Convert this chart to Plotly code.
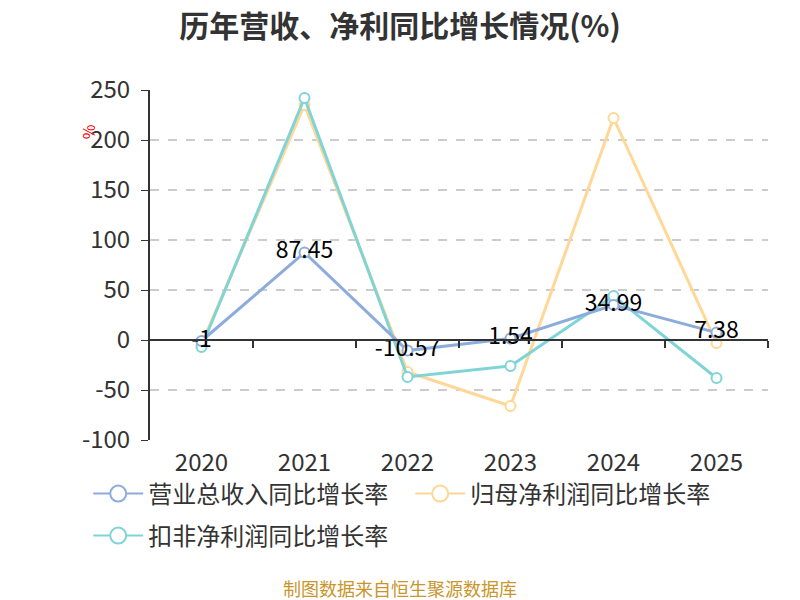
import plotly.graph_objects as go

years = ["2020", "2021", "2022", "2023", "2024", "2025"]
revenue_growth = [-1, 87.45, -10.57, 1.54, 34.99, 7.38]
parent_profit_growth = [-4, 235, -32, -66, 222, -3]
deducted_profit_growth = [-7, 242, -37, -26, 44, -38]

series_names = ["营业总收入同比增长率", "归母净利润同比增长率", "扣非净利润同比增长率"]
colors = ["#8DACDC", "#FFD797", "#80D4D6"]
y_ticks = [-100, -50, 0, 50, 100, 150, 200, 250]
y_tick_text = [str(v) for v in y_ticks]

FONT = "Noto Sans CJK SC, Microsoft YaHei, sans-serif"

series = [revenue_growth, parent_profit_growth, deducted_profit_growth]
legend_ids = ["legend", "legend", "legend2"]
data_traces = []
legend_traces = []
for i, (name, vals, col) in enumerate(zip(series_names, series, colors)):
    show_text = i == 0
    data_traces.append(go.Scatter(
        x=years, y=vals, name=name, showlegend=False,
        mode="lines+markers+text" if show_text else "lines+markers",
        text=[f"{v:g}" for v in vals] if show_text else None,
        textposition="middle center",
        textfont=dict(size=23, color="#000", family=FONT),
        line=dict(color=col, width=3),
        marker=dict(symbol="circle", size=10, color="white", line=dict(color=col, width=2)),
        cliponaxis=False,
    ))
    # legend-only entry with a larger symbol, like the reference legend
    legend_traces.append(go.Scatter(
        x=[None], y=[None], name=name, mode="lines+markers", legend=legend_ids[i],
        legendrank=i + 1, hoverinfo="skip",
        line=dict(color=col, width=2),
        marker=dict(symbol="circle", size=20, color="white", line=dict(color=col, width=2)),
    ))

fig = go.Figure()
# draw the labelled series last so its labels sit on top
for t in [data_traces[1], data_traces[2], data_traces[0]] + legend_traces:
    fig.add_trace(t)

# helper invisible trace for the zero-line tick axis
fig.add_trace(go.Scatter(x=[None], y=[None], xaxis="x2", showlegend=False, hoverinfo="skip"))

ymin, ymax = -100, 250
plot_h = 350
fig.update_layout(
    width=800, height=600,
    paper_bgcolor="white", plot_bgcolor="white",
    margin=dict(l=142, r=40, t=82, b=168),
    font=dict(family=FONT, color="#333"),
    title=dict(text="<b>历年营收、净利同比增长情况(%)</b>", x=0.49, xanchor="center",
               y=1 - 18 / 600, yanchor="middle",
               font=dict(size=30, color="#333", family=FONT)),
    xaxis=dict(type="category", categoryarray=years, range=[-0.5, 5.5],
               showline=False, showgrid=False, zeroline=False, ticks="",
               tickfont=dict(size=24, color="#333"), ticklabelstandoff=6),
    xaxis2=dict(overlaying="x", anchor="free", position=(0 - ymin) / (ymax - ymin),
                range=[-0.5, 5.5], tickvals=[0.5, 1.5, 2.5, 3.5, 4.5, 5.5],
                ticks="outside", ticklen=7, tickcolor="#333", tickwidth=2,
                showline=True, linecolor="#333", linewidth=2,
                showticklabels=False, showgrid=False, zeroline=False),
    yaxis=dict(range=[ymin, ymax], tickvals=y_ticks, ticktext=y_tick_text,
               showgrid=True, gridcolor="#ccc",
               griddash="dash", gridwidth=1.5, zeroline=False,
               showline=True, linecolor="#333", linewidth=2,
               ticks="outside", ticklen=7, tickcolor="#333", ticklabelstandoff=6,
               tickfont=dict(size=24, color="#333")),
    legend=dict(orientation="h", x=-0.1, xanchor="left", y=-(486 - 432) / plot_h,
                yanchor="middle", bgcolor="rgba(0,0,0,0)",
                font=dict(size=24, color="#333"), traceorder="normal",
                itemwidth=50, entrywidth=257),
    legend2=dict(orientation="h", x=-0.1, xanchor="left", y=-(528 - 432) / plot_h,
                 yanchor="middle", bgcolor="rgba(0,0,0,0)",
                 font=dict(size=24, color="#333"), itemwidth=50),
    showlegend=True,
    annotations=[
        dict(text="%", x=-0.1, y=0.88, xref="paper", yref="paper", showarrow=False,
             xanchor="center", yanchor="middle",
             textangle=-90, font=dict(size=16, color="red")),
        dict(text="制图数据来自恒生聚源数据库", x=(392 - 142) / 618, y=0, xref="x domain",
             yref="paper", yshift=-148, xanchor="center", yanchor="middle", showarrow=False,
             font=dict(size=18, color="#C9952C")),
    ],
)

fig.write_html("out.html")
